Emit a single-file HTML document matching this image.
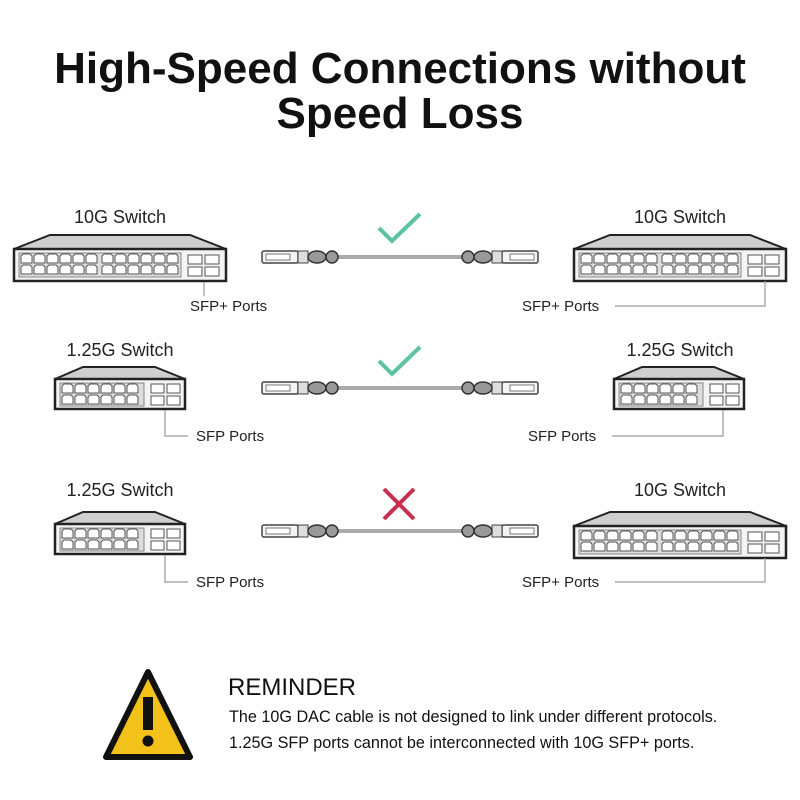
<!DOCTYPE html>
<html><head><meta charset="utf-8"><style>
body{margin:0;background:#fff}
svg{display:block}
text{font-family:"Liberation Sans",sans-serif}
</style></head><body>
<svg width="800" height="800" viewBox="0 0 800 800">
<defs>
<g id="port"><path d="M0 9 V2 L2 0 H9 L11 2 V9 Z" fill="#fff" stroke="#555" stroke-width="1"/></g>
<g id="sw10">
<path d="M0 14 L36 0 H176 L212 14 Z" fill="#cfcfcf" stroke="#222" stroke-width="2"/>
<rect x="0" y="14" width="212" height="32" fill="#f4f4f4" stroke="#222" stroke-width="2.5"/>
<rect x="5" y="18" width="162" height="24" fill="#ddd" stroke="#888"/>
<g id="r6"><use href="#port" x="7" y="19"/><use href="#port" x="20" y="19"/><use href="#port" x="33" y="19"/><use href="#port" x="46" y="19"/><use href="#port" x="59" y="19"/><use href="#port" x="72" y="19"/></g>
<use href="#r6" y="11"/><use href="#r6" x="81"/><use href="#r6" x="81" y="11"/>
<rect x="174" y="20" width="14" height="9" fill="#fff" stroke="#555"/><rect x="191" y="20" width="14" height="9" fill="#fff" stroke="#555"/>
<rect x="174" y="32" width="14" height="9" fill="#fff" stroke="#555"/><rect x="191" y="32" width="14" height="9" fill="#fff" stroke="#555"/>
</g>
<g id="sw1">
<path d="M0 12 L28 0 H100 L130 12 Z" fill="#cfcfcf" stroke="#222" stroke-width="2"/>
<rect x="0" y="12" width="130" height="30" fill="#f4f4f4" stroke="#222" stroke-width="2.5"/>
<rect x="5" y="16" width="84" height="23" fill="#ddd" stroke="#888"/>
<g id="q6"><use href="#port" x="7" y="17"/><use href="#port" x="20" y="17"/><use href="#port" x="33" y="17"/><use href="#port" x="46" y="17"/><use href="#port" x="59" y="17"/><use href="#port" x="72" y="17"/></g>
<use href="#q6" y="11"/>
<rect x="96" y="17" width="13" height="9" fill="#fff" stroke="#555"/><rect x="112" y="17" width="13" height="9" fill="#fff" stroke="#555"/>
<rect x="96" y="29" width="13" height="9" fill="#fff" stroke="#555"/><rect x="112" y="29" width="13" height="9" fill="#fff" stroke="#555"/>
</g>
<g id="plug">
<rect x="0" y="-6" width="36" height="12" rx="2" fill="#f4f4f4" stroke="#444" stroke-width="1.5"/>
<rect x="4" y="-3" width="24" height="6" fill="#fff" stroke="#777"/>
<rect x="36" y="-6" width="10" height="12" fill="#ddd" stroke="#444"/>
<ellipse cx="55" cy="0" rx="9" ry="6" fill="#999" stroke="#333" stroke-width="1.5"/>
<ellipse cx="70" cy="0" rx="6" ry="6" fill="#999" stroke="#333" stroke-width="1.5"/>
</g>
<g id="cable">
<line x1="70" y1="0" x2="206" y2="0" stroke="#555" stroke-width="3"/>
<line x1="70" y1="0" x2="206" y2="0" stroke="#fff" stroke-width="1"/>
<use href="#plug"/>
<use href="#plug" transform="translate(276 0) scale(-1 1)"/>
</g>
</defs>

<text x="400" y="83" font-size="44" font-weight="bold" text-anchor="middle" fill="#111">High-Speed Connections without</text>
<text x="400" y="128" font-size="44" font-weight="bold" text-anchor="middle" fill="#111">Speed Loss</text>

<g font-size="18" fill="#222">
<text x="120" y="223" text-anchor="middle">10G Switch</text>
<text x="680" y="223" text-anchor="middle">10G Switch</text>
<text x="120" y="356" text-anchor="middle">1.25G Switch</text>
<text x="680" y="356" text-anchor="middle">1.25G Switch</text>
<text x="120" y="496" text-anchor="middle">1.25G Switch</text>
<text x="680" y="496" text-anchor="middle">10G Switch</text>
</g>
<g font-size="15" fill="#222">
<text x="190" y="311">SFP+ Ports</text>
<text x="522" y="311">SFP+ Ports</text>
<text x="196" y="441">SFP Ports</text>
<text x="528" y="441">SFP Ports</text>
<text x="196" y="587">SFP Ports</text>
<text x="522" y="587">SFP+ Ports</text>
</g>

<use href="#sw10" x="14" y="235"/>
<use href="#sw10" x="574" y="235"/>
<use href="#sw1" x="55" y="367"/>
<use href="#sw1" x="614" y="367"/>
<use href="#sw1" x="55" y="512"/>
<use href="#sw10" x="574" y="512"/>

<g stroke="#999" stroke-width="1.2" fill="none">
<path d="M204 282 V296"/>
<path d="M765 281 V306 H615"/>
<path d="M165 410 V436 H188"/>
<path d="M723 410 V436 H612"/>
<path d="M165 555 V582 H188"/>
<path d="M765 558 V582 H615"/>
</g>

<use href="#cable" x="262" y="257"/>
<use href="#cable" x="262" y="388"/>
<use href="#cable" x="262" y="531"/>

<path d="M379 228 L392 241 L420 214" stroke="#5cc3a0" stroke-width="4" fill="none"/>
<path d="M379 361 L392 374 L420 347" stroke="#5cc3a0" stroke-width="4" fill="none"/>
<path d="M384 489 L414 519 M414 489 L384 519" stroke="#c4304d" stroke-width="4" fill="none"/>

<path d="M148 672 L190 757 H106 Z" fill="#f3c21a" stroke="#111" stroke-width="6" stroke-linejoin="round"/>
<rect x="143" y="697" width="10" height="33" fill="#111"/>
<circle cx="148" cy="741" r="5.5" fill="#111"/>

<text x="228" y="695" font-size="24" fill="#111">REMINDER</text>
<text x="229" y="722" font-size="16.2" fill="#111">The 10G DAC cable is not designed to link under different protocols.</text>
<text x="229" y="748" font-size="16.2" fill="#111">1.25G SFP ports cannot be interconnected with 10G SFP+ ports.</text>
</svg>
</body></html>
